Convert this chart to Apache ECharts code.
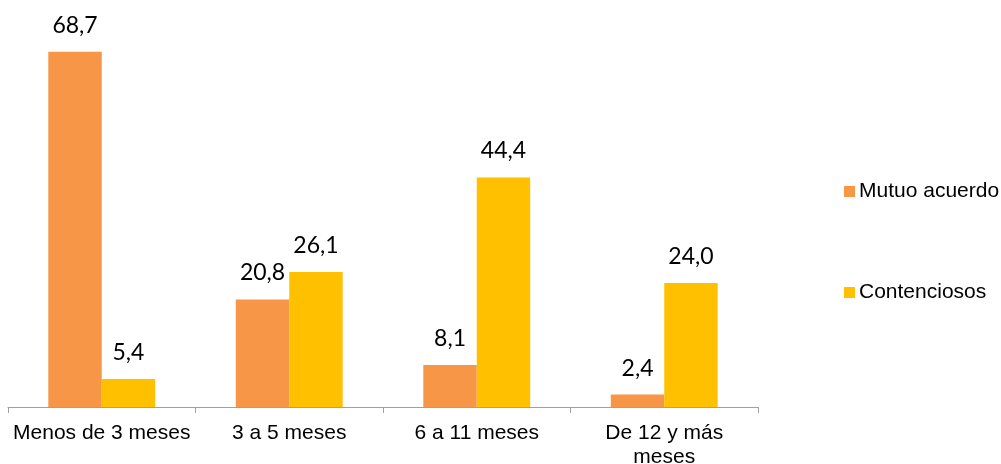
<!DOCTYPE html>
<html>
<head>
<meta charset="utf-8">
<script src="https://cdn.jsdelivr.net/npm/echarts@6/dist/echarts.min.js"></script>
<style>html,body{margin:0;padding:0;background:#fff}#c{width:1001px;height:464px}</style>
</head>
<body>
<div id="c"></div>
<script>
const categories = ['Menos de 3 meses', '3 a 5 meses', '6 a 11 meses', 'De 12 y más meses'];
const seriesNames = ['Mutuo acuerdo', 'Contenciosos'];
const mutuoAcuerdo = [68.7, 20.8, 8.1, 2.4];
const contenciosos = [5.4, 26.1, 44.4, 24.0];

const chart = echarts.init(document.getElementById('c'));
const labelCfg = {
  show: true,
  position: 'top',
  distance: 15,
  fontFamily: 'Lato',
  fontSize: 23,
  color: '#000',
  formatter: p => p.value.toFixed(1).replace('.', ',')
};
chart.setOption({
  animation: false,
  grid: { left: 8, right: 243, top: 45, bottom: 57, outerBoundsMode: 'none', containLabel: false },
  legend: {
    orient: 'vertical',
    left: 844,
    top: 181,
    padding: 0,
    itemWidth: 11,
    itemHeight: 11,
    itemGap: 80,
    icon: 'rect',
    textStyle: { fontFamily: 'Liberation Sans', fontSize: 21, color: '#000', padding: [0, 0, 0, -1] },
    data: seriesNames
  },
  xAxis: {
    type: 'category',
    data: categories,
    axisLine: { lineStyle: { color: '#a0a0a0', width: 1 } },
    axisTick: { show: true, length: 6, lineStyle: { color: '#a0a0a0' } },
    axisLabel: {
      fontFamily: 'Liberation Sans',
      fontSize: 21,
      color: '#000',
      margin: 14,
      lineHeight: 24,
      interval: 0,
      formatter: v => v === 'De 12 y más meses' ? 'De 12 y más\nmeses' : v
    }
  },
  yAxis: { type: 'value', min: 0, max: 70, show: false, splitLine: { show: false } },
  series: [
    { name: seriesNames[0], type: 'bar', data: mutuoAcuerdo, itemStyle: { color: '#F79646' },
      barGap: '0%', barCategoryGap: '43%', label: labelCfg },
    { name: seriesNames[1], type: 'bar', data: contenciosos, itemStyle: { color: '#FFC000' },
      barGap: '0%', barCategoryGap: '43%', label: labelCfg }
  ]
});
</script>
</body>
</html>
